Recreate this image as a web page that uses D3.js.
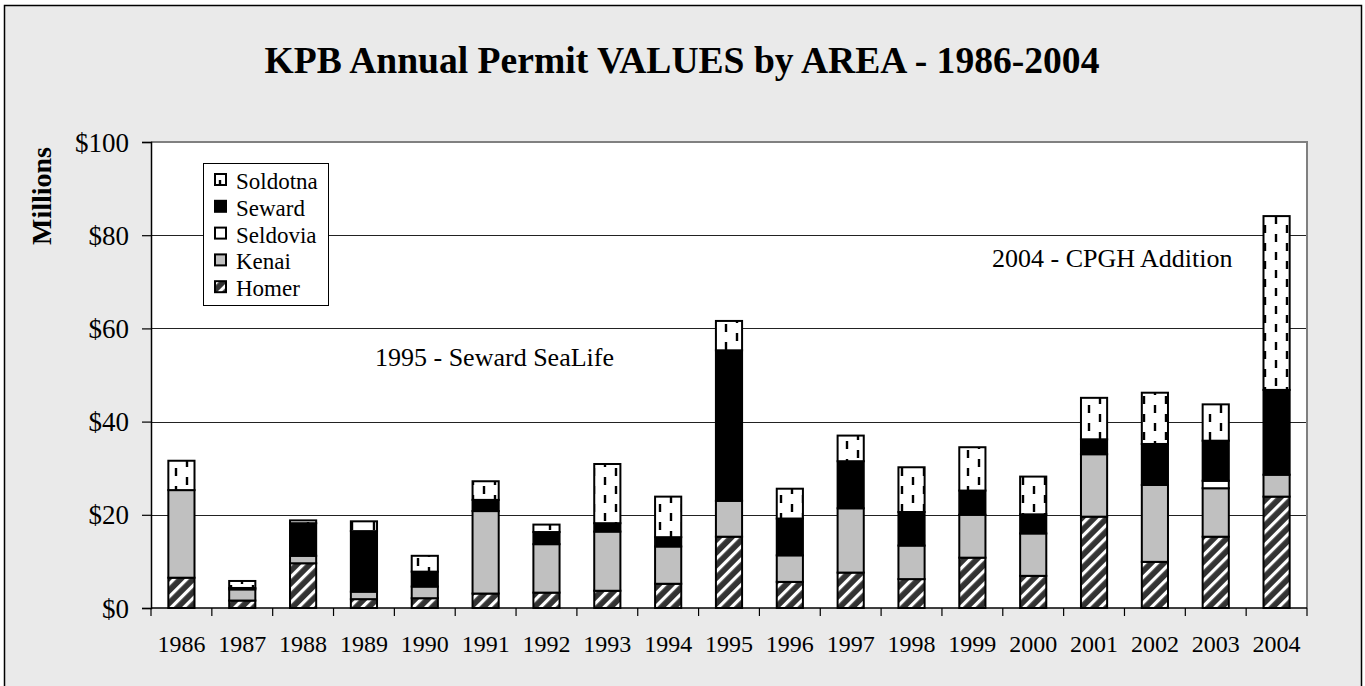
<!DOCTYPE html>
<html>
<head>
<meta charset="utf-8">
<script src="https://cdn.jsdelivr.net/npm/d3@7"></script>
<style>
  html, body { margin: 0; padding: 0; background: #fff; }
  svg { display: block; }
  text { font-family: "Liberation Serif", "Times New Roman", "DejaVu Serif", serif; fill: #000; }
</style>
</head>
<body>
<svg id="chart" width="1365" height="686"></svg>
<script>
// ---- Data (values in $ millions) ----
const years = ["1986","1987","1988","1989","1990","1991","1992","1993","1994","1995","1996","1997","1998","1999","2000","2001","2002","2003","2004"];
const homer    = [6.5, 1.6, 9.6, 1.9, 2.1, 3.1, 3.3, 3.7, 5.2, 15.3, 5.6, 7.6, 6.2, 10.8, 6.9, 19.6, 9.9, 15.3, 23.9];
const kenai    = [18.8, 2.4, 1.6, 1.6, 2.5, 17.7, 10.4, 12.7, 8.0, 7.7, 5.7, 13.8, 7.2, 9.2, 9.1, 13.4, 16.5, 10.4, 4.7];
const seldovia = [0, 0, 0, 0, 0, 0, 0, 0, 0, 0, 0, 0, 0, 0, 0, 0, 0, 1.6, 0];
const seward   = [0, 0.3, 7.0, 13.0, 3.2, 2.4, 2.6, 1.8, 2.0, 32.3, 7.9, 10.1, 7.2, 5.2, 4.1, 3.2, 8.8, 8.6, 18.2];
const soldotna = [6.3, 1.5, 0.6, 2.1, 3.4, 4.0, 1.6, 12.7, 8.7, 6.3, 6.4, 5.5, 9.6, 9.3, 8.1, 8.9, 11.0, 7.8, 37.3];
const seriesNames = ["Homer", "Kenai", "Seldovia", "Seward", "Soldotna"];
const yTicks = [0, 20, 40, 60, 80, 100];
const titleText = "KPB Annual Permit VALUES by AREA - 1986-2004";
const yAxisTitle = "Millions";
const annotations = [
  { text: "1995 - Seward SeaLife", x: 375, y: 366 },
  { text: "2004 - CPGH Addition", x: 992, y: 267 }
];

const seriesValues = { Homer: homer, Kenai: kenai, Seldovia: seldovia, Seward: seward, Soldotna: soldotna };
const table = years.map((yr, i) => {
  const row = { year: yr };
  seriesNames.forEach(s => row[s] = seriesValues[s][i]);
  return row;
});

const svg = d3.select("#chart");
const W = 1365, H = 686;
const plot = { left: 151, right: 1307, top: 142, bottom: 608 };

// ---- Patterns ----
const defs = svg.append("defs");
const ph = defs.append("pattern").attr("id", "pat-homer")
  .attr("patternUnits", "userSpaceOnUse").attr("width", 9).attr("height", 9)
  .attr("patternTransform", "rotate(45)");
ph.append("rect").attr("width", 9).attr("height", 9).attr("fill", "#333");
ph.append("rect").attr("x", 0).attr("width", 3.2).attr("height", 9).attr("fill", "#fff");

const ps = defs.append("pattern").attr("id", "pat-soldotna")
  .attr("patternUnits", "userSpaceOnUse").attr("width", 22).attr("height", 18);
ps.append("rect").attr("width", 22).attr("height", 18).attr("fill", "#fff");
ps.append("rect").attr("x", -1.2).attr("y", 0).attr("width", 2.4).attr("height", 8).attr("fill", "#000");
ps.append("rect").attr("x", 20.8).attr("y", 0).attr("width", 2.4).attr("height", 8).attr("fill", "#000");
ps.append("rect").attr("x", 9.8).attr("y", 9).attr("width", 2.4).attr("height", 8).attr("fill", "#000");

const fills = {
  Homer: "url(#pat-homer)",
  Kenai: "#c0c0c0",
  Seldovia: "#ffffff",
  Seward: "#000000",
  Soldotna: "url(#pat-soldotna)"
};

// ---- Background ----
svg.append("rect").attr("x", 0).attr("y", 0).attr("width", W).attr("height", H).attr("fill", "#fff");
svg.append("rect").attr("x", 4.5).attr("y", 5.5).attr("width", 1357).attr("height", 690)
  .attr("fill", "#eaeaea").attr("stroke", "#000").attr("stroke-width", 1.5);

// plot area
svg.append("rect").attr("x", plot.left).attr("y", plot.top)
  .attr("width", plot.right - plot.left).attr("height", plot.bottom - plot.top)
  .attr("fill", "#fff");

// ---- Scales ----
const x = d3.scaleBand().domain(years).range([plot.left, plot.right]).paddingInner(0.57).paddingOuter(0.285);
const y = d3.scaleLinear().domain([0, 100]).range([plot.bottom, plot.top]);

// gridlines
svg.append("g").selectAll("line").data(yTicks.filter(t => t > 0 && t < 100)).join("line")
  .attr("x1", plot.left).attr("x2", plot.right)
  .attr("y1", d => Math.round(y(d)) + 0.5).attr("y2", d => Math.round(y(d)) + 0.5)
  .attr("stroke", "#222").attr("stroke-width", 1);

// plot border (top & right grey)
svg.append("path")
  .attr("d", `M${plot.left},${plot.top} H${plot.right} V${plot.bottom}`)
  .attr("fill", "none").attr("stroke", "#808080").attr("stroke-width", 2);

// ---- Bars ----
const stack = d3.stack().keys(seriesNames)(table);
const gBars = svg.append("g");
stack.forEach(layer => {
  const key = layer.key;
  gBars.append("g").selectAll("rect")
    .data(layer.filter(d => d[1] - d[0] > 0))
    .join("rect")
    .attr("x", d => x(d.data.year))
    .attr("width", x.bandwidth())
    .attr("y", d => y(d[1]))
    .attr("height", d => y(d[0]) - y(d[1]))
    .attr("fill", fills[key])
    .attr("stroke", "#000")
    .attr("stroke-width", 2);
});

// ---- Axes ----
const yAxis = d3.axisLeft(y).tickValues(yTicks).tickSize(9).tickFormat(d => "$" + d);
const gy = svg.append("g").attr("transform", `translate(${plot.left},0)`).call(yAxis);
gy.select(".domain").attr("stroke", "#000").attr("stroke-width", 1.5);
gy.selectAll(".tick line").attr("stroke", "#000").attr("stroke-width", 1.2);
gy.selectAll(".tick text").attr("x", -22).attr("dy", "0.34em")
  .style("font-family", "'Liberation Serif', 'Times New Roman', serif").style("font-size", "27px");

// x axis line and band-boundary ticks
svg.append("line").attr("x1", plot.left).attr("x2", plot.right)
  .attr("y1", plot.bottom).attr("y2", plot.bottom).attr("stroke", "#000").attr("stroke-width", 1.5);
const bx = years.map(yr => x(yr) + x.bandwidth() / 2 - x.step() / 2).concat([plot.right]);
svg.append("g").selectAll("line").data(bx).join("line")
  .attr("x1", d => d).attr("x2", d => d)
  .attr("y1", plot.bottom).attr("y2", plot.bottom + 8)
  .attr("stroke", "#000").attr("stroke-width", 1.2);
svg.append("g").selectAll("text").data(years).join("text")
  .attr("x", d => x(d) + x.bandwidth() / 2).attr("y", 652)
  .attr("text-anchor", "middle").style("font-size", "24px").text(d => d);

// ---- Titles ----
svg.append("text").attr("x", 682).attr("y", 73).attr("text-anchor", "middle")
  .style("font-size", "37.6px").style("font-weight", "bold").text(titleText);
svg.append("text").attr("transform", "translate(51,196) rotate(-90)").attr("text-anchor", "middle")
  .style("font-size", "28px").style("font-weight", "bold").text(yAxisTitle);

// annotations
svg.append("g").selectAll("text").data(annotations).join("text")
  .attr("x", d => d.x).attr("y", d => d.y).style("font-size", "26px").text(d => d.text);

// ---- Legend ----
const lg = svg.append("g");
lg.append("rect").attr("x", 203.5).attr("y", 163.5).attr("width", 125).attr("height", 142)
  .attr("fill", "#fff").attr("stroke", "#000").attr("stroke-width", 1);
const legendOrder = seriesNames.slice().reverse();
legendOrder.forEach((s, i) => {
  const by = 189 + i * 26.8;
  lg.append("rect").attr("x", 215).attr("y", by - 15).attr("width", 11).attr("height", 11)
    .attr("fill", fills[s]).attr("stroke", "#000").attr("stroke-width", 2);
  lg.append("text").attr("x", 236).attr("y", by).style("font-size", "23px").text(s);
});
</script>
</body>
</html>
